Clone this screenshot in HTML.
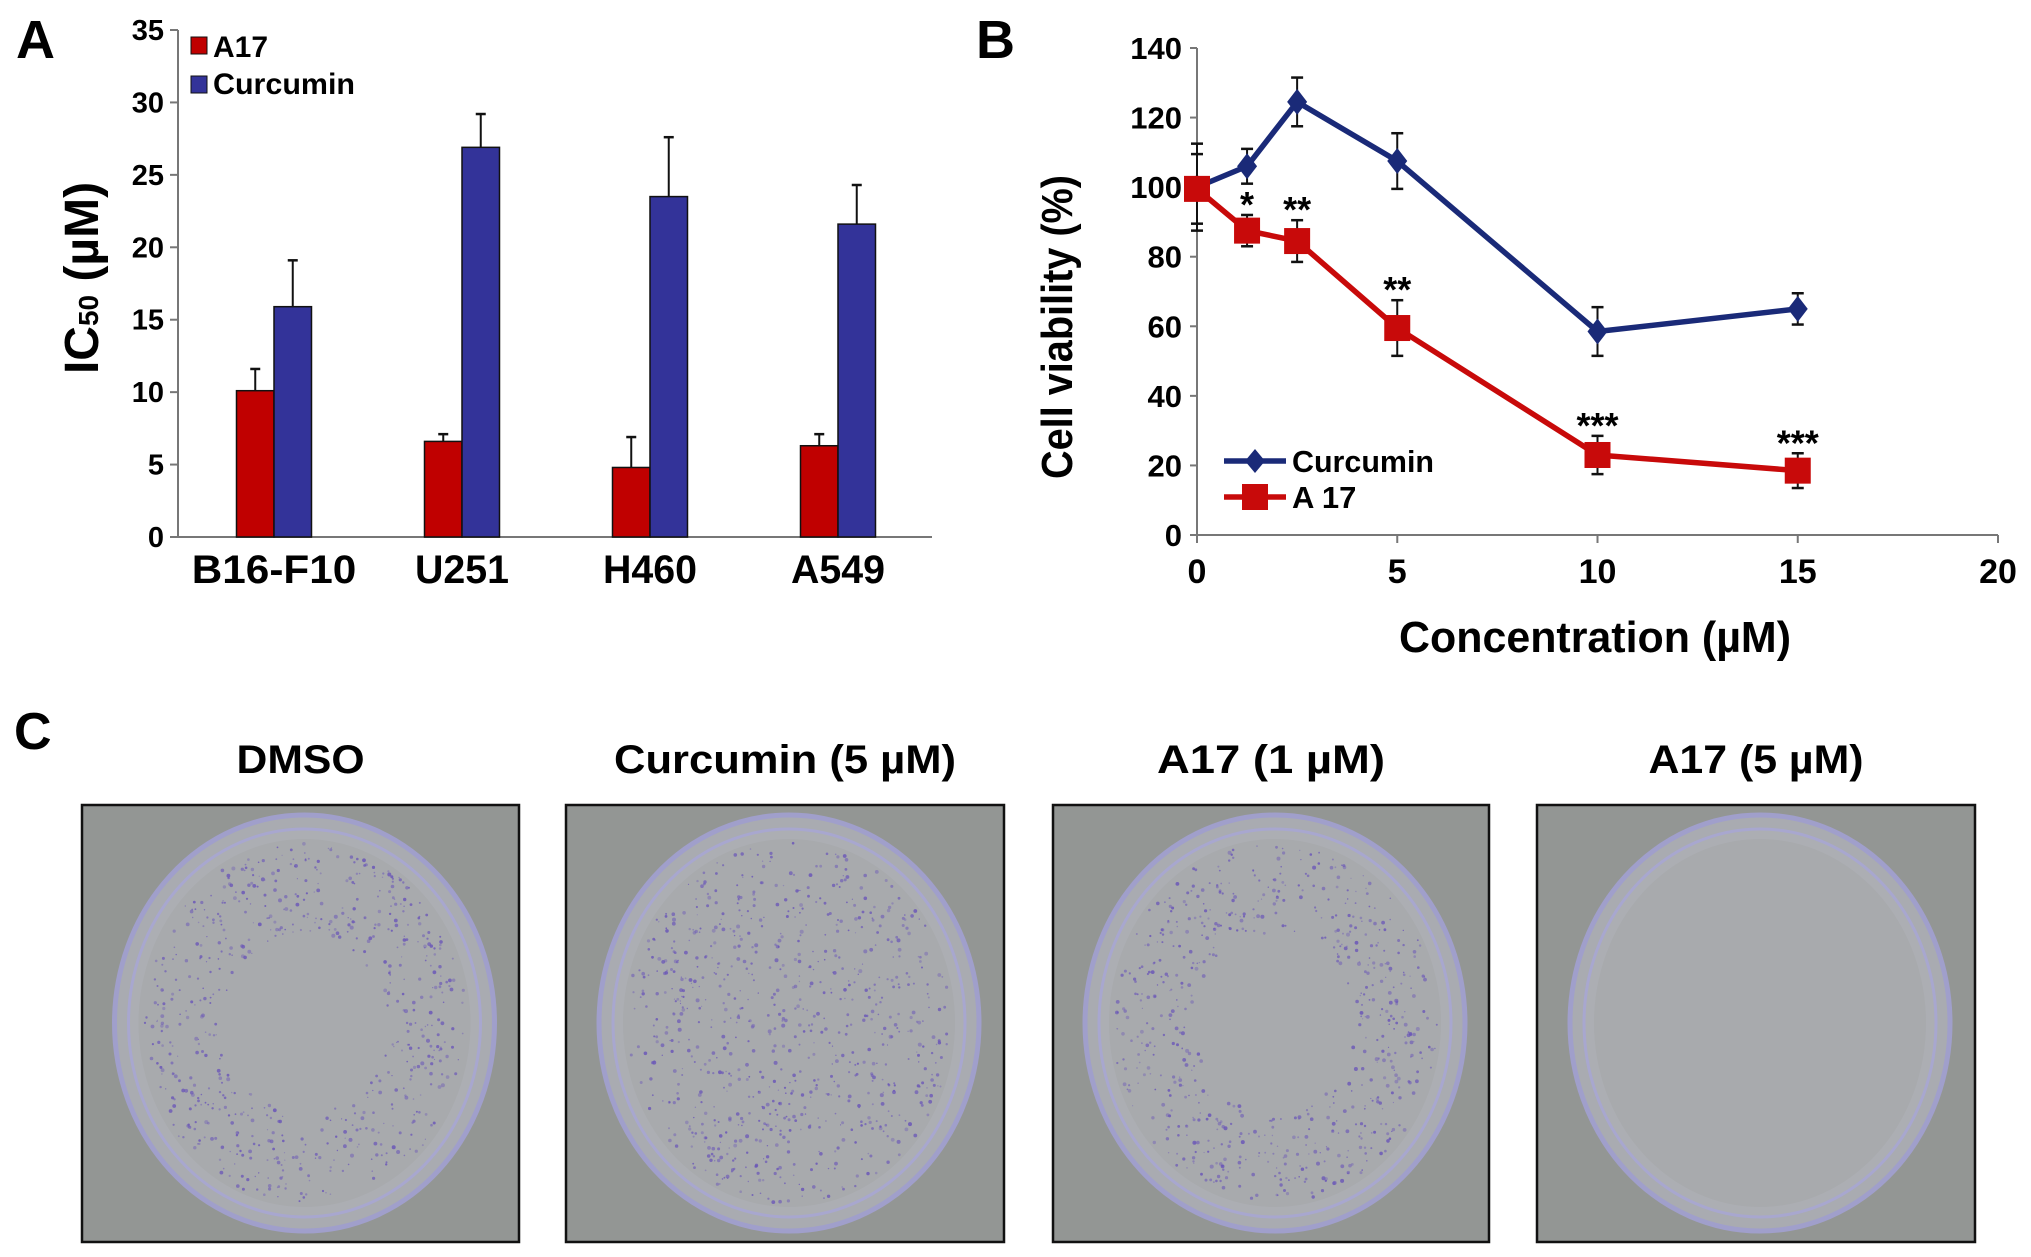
<!DOCTYPE html>
<html><head><meta charset="utf-8"><style>
html,body{margin:0;padding:0;background:#fff;}
svg{display:block;font-family:"Liberation Sans",sans-serif;font-weight:bold;}
</style></head><body>
<svg id="fig" width="2031" height="1257" viewBox="0 0 2031 1257" xmlns="http://www.w3.org/2000/svg">
<rect width="2031" height="1257" fill="#fff"/>
<text x="16" y="58" font-size="54">A</text>
<text x="976" y="58" font-size="54">B</text>
<text x="14" y="749" font-size="52">C</text>
<g id="chartA"></g>
<g id="chartB"></g>
<g id="panelC"></g>
</svg>
<script>
// ---------- Panel A data ----------
const cellLines = ["B16-F10","U251","H460","A549"];
const a17Ic50 = [10.1, 6.6, 4.8, 6.3];
const a17Err = [1.5, 0.5, 2.1, 0.8];
const curIc50 = [15.9, 26.9, 23.5, 21.6];
const curErr = [3.2, 2.3, 4.1, 2.7];
const ticksA = [0,5,10,15,20,25,30,35];
// ---------- Panel B data ----------
const conc = [0, 1.25, 2.5, 5, 10, 15];
const curViab = [100, 106, 124.5, 107.5, 58.5, 65];
const curViabErr = [12.5, 5, 7, 8, 7, 4.5];
const a17Viab = [99.5, 87.5, 84.5, 59.5, 23, 18.5];
const a17ViabErr = [10, 4.5, 6, 8, 5.5, 5];
const stars = ["", "*", "**", "**", "***", "***"];
const ticksBy = [0,20,40,60,80,100,120,140];
const ticksBx = [0,5,10,15,20];

const NS="http://www.w3.org/2000/svg";
function mk(parent, tag, attrs, txt){
  const e=document.createElementNS(NS,tag);
  for(const k in attrs) e.setAttribute(k, attrs[k]);
  if(txt!==undefined) e.textContent=txt;
  parent.appendChild(e); return e;
}
const FN='"Liberation Sans Narrow","Liberation Sans",sans-serif';

// ---------- Panel A ----------
(function(){
  const g=document.getElementById('chartA');
  const x0=178, x1=932, yb=537, yt=30;
  const ya=v=> yb-(v/35)*(yb-yt);
  const gc=i=> 274+188*i;
  const bw=37.5;
  let ax=mk(g,'line',{x1:x0,y1:yt,x2:x0,y2:yb,stroke:'#777','stroke-width':2});
   
  ax=mk(g,'line',{x1:x0,y1:yb,x2:x1,y2:yb,stroke:'#777','stroke-width':2});
   
  ticksA.forEach(t=>{
    mk(g,'line',{x1:x0-8,y1:ya(t),x2:x0,y2:ya(t),stroke:'#777','stroke-width':2});
    const tl=mk(g,'text',{x:x0-14,y:ya(t)+10,'font-size':29,'text-anchor':'end','font-family':FN},String(t));
     
  });
  cellLines.forEach((c,i)=>{
    const cx=gc(i);
    const r=mk(g,'rect',{x:cx-bw,y:ya(a17Ic50[i]),width:bw,height:yb-ya(a17Ic50[i]),fill:'#c00000',stroke:'#111','stroke-width':1.5});
     
    const b=mk(g,'rect',{x:cx,y:ya(curIc50[i]),width:bw,height:yb-ya(curIc50[i]),fill:'#333399',stroke:'#111','stroke-width':1.5});
     
    [[cx-bw/2,a17Ic50[i],a17Err[i]],[cx+bw/2,curIc50[i],curErr[i]]].forEach(([ex,v,e])=>{
      mk(g,'line',{x1:ex,y1:ya(v),x2:ex,y2:ya(v+e),stroke:'#111','stroke-width':2});
      mk(g,'line',{x1:ex-5,y1:ya(v+e),x2:ex+5,y2:ya(v+e),stroke:'#111','stroke-width':2.5});
    });
    const lb=mk(g,'text',{x:cx,y:583,'font-size':40,'text-anchor':'middle','font-family':FN,textLength:c.length*23.5,lengthAdjust:'spacingAndGlyphs'},c);
     
  });
  let s=mk(g,'rect',{x:191,y:37,width:16,height:17,fill:'#c00000',stroke:'#111','stroke-width':1});
   
  s=mk(g,'text',{x:213,y:57,'font-size':30,'font-family':FN},'A17');
   
  s=mk(g,'rect',{x:191,y:76,width:16,height:17,fill:'#333399',stroke:'#111','stroke-width':1});
   
  s=mk(g,'text',{x:213,y:94,'font-size':30,'font-family':FN,textLength:142,lengthAdjust:'spacingAndGlyphs'},'Curcumin');
   
  const t=mk(g,'text',{transform:'translate(98,278) rotate(-90)','font-size':48,'text-anchor':'middle'});
   
  mk(t,'tspan',{},'IC');
  mk(t,'tspan',{'font-size':28},'50');
  mk(t,'tspan',{},' (µM)');
})();

// ---------- Panel B ----------
(function(){
  const g=document.getElementById('chartB');
  const x0=1197, x1=1998, yb=535, yt=48;
  const xs=v=> x0+(v/20)*(x1-x0);
  const ys=v=> yb-(v/140)*(yb-yt);
  let ax=mk(g,'line',{x1:x0,y1:yt,x2:x0,y2:yb,stroke:'#777','stroke-width':2});
   
  ax=mk(g,'line',{x1:x0,y1:yb,x2:x1,y2:yb,stroke:'#777','stroke-width':2});
   
  ticksBy.forEach(t=>{
    mk(g,'line',{x1:x0-7,y1:ys(t),x2:x0,y2:ys(t),stroke:'#777','stroke-width':2});
    const l=mk(g,'text',{x:1182,y:ys(t)+11,'font-size':31,'text-anchor':'end','font-family':FN},String(t));
     
  });
  ticksBx.forEach(t=>{
    mk(g,'line',{x1:xs(t),y1:yb,x2:xs(t),y2:yb+8,stroke:'#777','stroke-width':2});
    const l=mk(g,'text',{x:xs(t),y:583,'font-size':34,'text-anchor':'middle','font-family':FN},String(t));
     
  });
  function series(vals, errs, color, kind, name){
    const sg=mk(g,'g',{});
     
    conc.forEach((c,i)=>{
      const x=xs(c);
      mk(sg,'line',{x1:x,y1:ys(vals[i]-errs[i]),x2:x,y2:ys(vals[i]+errs[i]),stroke:'#111','stroke-width':2});
      mk(sg,'line',{x1:x-6,y1:ys(vals[i]+errs[i]),x2:x+6,y2:ys(vals[i]+errs[i]),stroke:'#111','stroke-width':2.5});
      mk(sg,'line',{x1:x-6,y1:ys(vals[i]-errs[i]),x2:x+6,y2:ys(vals[i]-errs[i]),stroke:'#111','stroke-width':2.5});
    });
    const pts=conc.map((c,i)=>xs(c)+','+ys(vals[i])).join(' ');
    const pl=mk(sg,'polyline',{points:pts,fill:'none',stroke:color,'stroke-width':5.5,'stroke-linejoin':'round'});
     
    conc.forEach((c,i)=>{
      const x=xs(c), y=ys(vals[i]);
      let m;
      if(kind==='d') m=mk(sg,'polygon',{points:`${x},${y-13} ${x+10},${y} ${x},${y+13} ${x-10},${y}`,fill:color});
      else m=mk(sg,'rect',{x:x-13,y:y-13,width:26,height:26,fill:color});
       
    });
  }
  series(curViab,curViabErr,'#1a2a78','d','curcumin');
  series(a17Viab,a17ViabErr,'#c80a0a','s','a17');
  conc.forEach((c,i)=>{
    if(!stars[i]) return;
    const s=mk(g,'text',{x:xs(c),y:ys(a17Viab[i]+a17ViabErr[i])+2,'font-size':36,'text-anchor':'middle'},stars[i]);
     
  });
  mk(g,'line',{x1:1224,y1:461,x2:1286,y2:461,stroke:'#1a2a78','stroke-width':5.5});
  mk(g,'polygon',{points:'1255,449 1265,461 1255,473 1245,461',fill:'#1a2a78'});
  let l=mk(g,'text',{x:1292,y:472,'font-size':31,'font-family':FN,textLength:142,lengthAdjust:'spacingAndGlyphs'},'Curcumin');
   
  mk(g,'line',{x1:1224,y1:497,x2:1286,y2:497,stroke:'#c80a0a','stroke-width':5.5});
  mk(g,'rect',{x:1242,y:484,width:26,height:26,fill:'#c80a0a'});
  l=mk(g,'text',{x:1292,y:508,'font-size':31,'font-family':FN},'A 17');
   
  l=mk(g,'text',{x:1595,y:652,'font-size':44,'text-anchor':'middle',textLength:392,lengthAdjust:'spacingAndGlyphs'},'Concentration (µM)');
   
  l=mk(g,'text',{transform:'translate(1072,327) rotate(-90)','font-size':44,'text-anchor':'middle',textLength:304,lengthAdjust:'spacingAndGlyphs'},'Cell viability (%)');
   
})();

// ---------- Panel C ----------
(function(){
  const g=document.getElementById('panelC');
  const plates=[
    {t:'DMSO',x:82,w:437,tw:128,n:650},
    {t:'Curcumin (5 µM)',x:566,w:438,tw:342,n:800},
    {t:'A17 (1 µM)',x:1053,w:436,tw:228,n:650},
    {t:'A17 (5 µM)',x:1537,w:438,tw:215,n:0}
  ];
  let seed=7;
  const rnd=()=>{seed=(seed*16807)%2147483647;return seed/2147483647;};
  plates.forEach((p,k)=>{
    const tt=mk(g,'text',{x:p.x+p.w/2,y:773,'font-size':40,'text-anchor':'middle','font-family':FN,textLength:p.tw,lengthAdjust:'spacingAndGlyphs'},p.t);
     
    const pg=mk(g,'g',{});
     
    mk(pg,'rect',{x:p.x,y:805,width:p.w,height:437,fill:'#939694',stroke:'#111','stroke-width':2.5});
    const cx=p.x+p.w/2+4, cy=1023, rx=190, ry=208;
    mk(pg,'ellipse',{cx,cy,rx,ry,fill:'#a9abb1',stroke:'#a09fcb','stroke-width':5});
    mk(pg,'ellipse',{cx,cy,rx:rx-14,ry:ry-14,fill:'#acaeb3',stroke:'#a8a7cf','stroke-width':3});
    mk(pg,'ellipse',{cx,cy,rx:rx-24,ry:ry-24,fill:'#a8aaad'});
    for(let i=0;i<p.n;i++){
      const a=rnd()*Math.PI*2;
      let r=Math.sqrt(rnd());
      if(k!==1) r = 0.5+0.5*Math.pow(rnd(),0.8);
      const px=cx+Math.cos(a)*r*(rx-28), py=cy+Math.sin(a)*r*(ry-28);
      mk(pg,'circle',{cx:px.toFixed(1),cy:py.toFixed(1),r:(0.6+rnd()*1.4).toFixed(1),fill:'#6a56b8','fill-opacity':(0.35+rnd()*0.5).toFixed(2)});
    }
  });
})();
</script>
</body></html>
